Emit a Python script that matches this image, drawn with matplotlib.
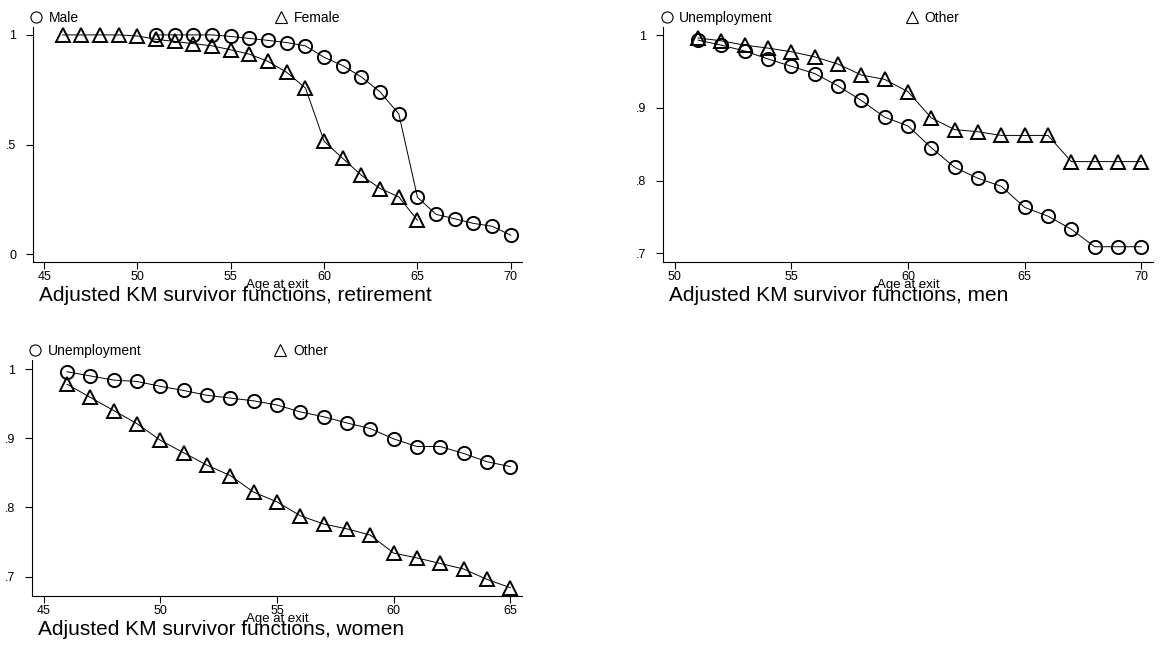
import matplotlib
matplotlib.use("Agg")
import matplotlib.pyplot as plt
from matplotlib.lines import Line2D
from matplotlib.legend import Legend


# ----- DATA -----
# Panel 1: retirement, by sex
ret_male_age = list(range(51, 71))
ret_male = [1.0, 1.0, 1.0, 1.0, 0.993, 0.984, 0.975, 0.965, 0.95, 0.898,
            0.86, 0.808, 0.74, 0.64, 0.26, 0.182, 0.162, 0.141, 0.128, 0.087]
ret_female_age = list(range(46, 66))
ret_female = [1.0, 1.0, 1.0, 1.0, 0.995, 0.98, 0.97, 0.96, 0.95, 0.932,
              0.912, 0.879, 0.829, 0.758, 0.515, 0.437, 0.36, 0.30, 0.262, 0.155]

# Panel 2: men, by exit route
men_age = list(range(51, 71))
men_unemp = [0.993, 0.986, 0.978, 0.967, 0.957, 0.947, 0.930, 0.910, 0.887, 0.875,
             0.845, 0.818, 0.803, 0.792, 0.763, 0.751, 0.733, 0.709, 0.709, 0.709]
men_other = [0.996, 0.992, 0.986, 0.982, 0.977, 0.970, 0.960, 0.945, 0.939, 0.922,
             0.886, 0.870, 0.867, 0.862, 0.862, 0.862, 0.826, 0.826, 0.826, 0.826]

# Panel 3: women, by exit route
women_age = list(range(46, 66))
women_unemp = [0.996, 0.990, 0.984, 0.982, 0.975, 0.969, 0.962, 0.958, 0.954, 0.948,
               0.938, 0.931, 0.922, 0.914, 0.899, 0.888, 0.888, 0.878, 0.866, 0.859]
women_other = [0.978, 0.959, 0.940, 0.921, 0.897, 0.879, 0.861, 0.846, 0.822, 0.808,
               0.788, 0.776, 0.769, 0.760, 0.734, 0.727, 0.719, 0.711, 0.696, 0.684]


# ----- STYLE -----
plt.rcParams["font.family"] = ["Liberation Sans", "DejaVu Sans"]
TICK_FS = 9
KEY_FS = 10
XLAB_FS = 9.5
TITLE_FS = 15
MS = 9.5
MEW = 1.4
LW = 0.7


def legend_handle(marker):
    return Line2D([], [], marker=marker, linestyle="none", markersize=8,
                  markerfacecolor="none", markeredgecolor="black", markeredgewidth=0.8)


def km_panel(ax, x1, y1, x2, y2, labels, xlim, ylim, xticks, yticks, ytick_labels, title):
    ax.plot(x1, y1, color="black", linewidth=LW, marker="o", markersize=MS,
            markerfacecolor="none", markeredgecolor="black", markeredgewidth=MEW)
    ax.plot(x2, y2, color="black", linewidth=LW, marker="^", markersize=MS,
            markerfacecolor="none", markeredgecolor="black", markeredgewidth=MEW)

    ax.set_xlim(*xlim)
    ax.set_ylim(*ylim)
    ax.set_xticks(xticks)
    ax.set_yticks(yticks)
    ax.set_yticklabels(ytick_labels)
    ax.tick_params(axis="both", direction="out", length=5, width=0.8, labelsize=TICK_FS)
    ax.tick_params(axis="x", pad=1.5)
    ax.tick_params(axis="y", pad=7)
    for side in ["top", "right"]:
        ax.spines[side].set_visible(False)
    for side in ["left", "bottom"]:
        ax.spines[side].set_linewidth(0.8)

    # two-entry key above the plot, second entry starts at mid-width
    for xpos, marker, lab in [(0.0, "o", labels[0]), (0.5, "^", labels[1])]:
        leg = Legend(ax, [legend_handle(marker)], [lab], loc="lower left",
                     bbox_to_anchor=(xpos, 1.01), borderaxespad=0, borderpad=0,
                     frameon=False, fontsize=KEY_FS, handlelength=0.5, handletextpad=0.65)
        ax.add_artist(leg)

    ax.annotate("Age at exit", xy=(0.5, 0), xycoords="axes fraction",
                xytext=(0, -18.5), textcoords="offset points",
                ha="center", va="baseline", fontsize=XLAB_FS)
    ax.annotate(title, xy=(0, 0), xycoords="axes fraction",
                xytext=(4.5, -28), textcoords="offset points",
                ha="left", va="baseline", fontsize=TITLE_FS)


# ----- PLOT -----
fig = plt.figure(figsize=(11.6, 6.46), dpi=100)
ax1 = fig.add_axes([0.0284, 0.5944, 0.4216, 0.3638])
ax2 = fig.add_axes([0.5716, 0.5944, 0.4224, 0.3638])
ax3 = fig.add_axes([0.0276, 0.0774, 0.4224, 0.3653])

km_panel(ax1, ret_male_age, ret_male, ret_female_age, ret_female,
         ["Male", "Female"], (44.4, 70.6), (-0.035, 1.036),
         [45, 50, 55, 60, 65, 70], [0, 0.5, 1], ["0", ".5", "1"],
         "Adjusted KM survivor functions, retirement")

km_panel(ax2, men_age, men_unemp, men_age, men_other,
         ["Unemployment", "Other"], (49.5, 70.5), (0.688, 1.011),
         [50, 55, 60, 65, 70], [0.7, 0.8, 0.9, 1], [".7", ".8", ".9", "1"],
         "Adjusted KM survivor functions, men")

km_panel(ax3, women_age, women_unemp, women_age, women_other,
         ["Unemployment", "Other"], (44.5, 65.5), (0.672, 1.013),
         [45, 50, 55, 60, 65], [0.7, 0.8, 0.9, 1], [".7", ".8", ".9", "1"],
         "Adjusted KM survivor functions, women")

plt.savefig("out.png", dpi=100)
